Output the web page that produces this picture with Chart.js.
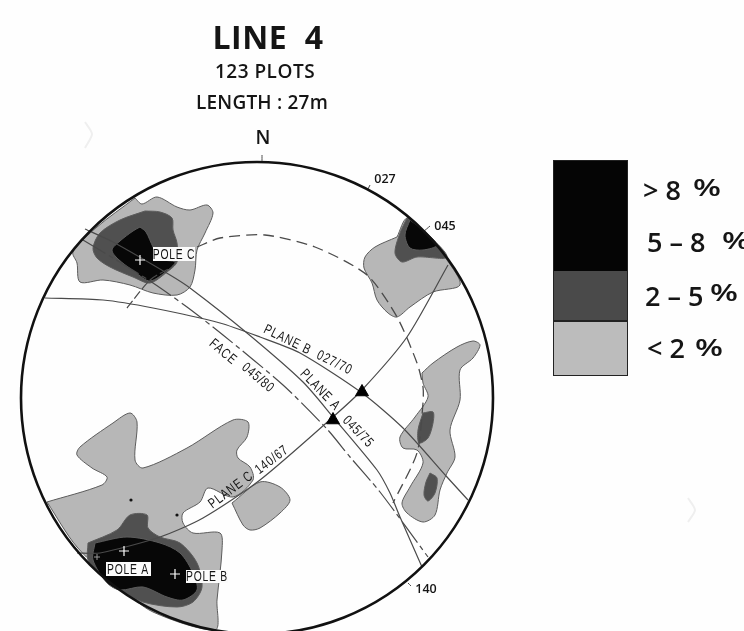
<!DOCTYPE html>
<html>
<head>
<meta charset="utf-8">
<title>LINE 4</title>
<script src="https://cdn.jsdelivr.net/npm/chart.js@4"></script>
<style>
  html, body { margin: 0; padding: 0; background: #fefefe; overflow: hidden; }
  canvas { display: block; filter: blur(0.6px); }
</style>
</head>
<body>
<canvas id="net" width="744" height="631"></canvas>
<script>
// --- contour outlines (x, y on the sheet scale) ---
const poleCLight = [[135,198],[142,204],[157,197],[177,207],[190,210],[207,205],[213,213],[205,233],[197,250],[195,270],[190,287],[177,295],[153,293],[130,285],[103,280],[80,282],[77,263],[73,252],[97,227],[135,198]];
const poleCMid = [[145,211],[160,212],[172,218],[173,230],[177,243],[177,262],[167,272],[150,283],[133,277],[110,267],[97,258],[93,248],[100,233],[120,220],[145,211]];
const poleCDark = [[140,227],[146,232],[153,247],[160,259],[175,262],[168,270],[150,281],[135,272],[118,259],[112,250],[120,241],[133,231],[140,227]];

const ne045Light = [[397,237],[375,247],[365,257],[364,268],[372,283],[377,300],[388,313],[397,317],[410,307],[433,292],[460,285],[447,260],[423,230],[407,218],[397,237]];
const ne045Mid = [[407,218],[400,233],[395,253],[402,262],[417,257],[447,257],[423,230],[407,218]];
const ne045Dark = [[410,220],[405,235],[410,248],[423,250],[437,245],[423,230],[410,220]];

const eastLight = [[422,373],[433,363],[457,347],[473,341],[480,345],[473,358],[460,370],[460,400],[450,430],[455,457],[447,473],[440,490],[435,515],[423,522],[407,513],[402,503],[410,487],[423,463],[417,450],[403,448],[400,437],[415,417],[428,397],[423,383],[422,373]];
const eastMidUpper = [[423,413],[433,412],[433,423],[428,438],[419,443],[418,430],[423,413]];
const eastMidLower = [[430,473],[437,478],[435,493],[428,501],[424,495],[426,482],[430,473]];

const swLight = [[47,502],[102,485],[107,477],[92,468],[77,455],[80,447],[113,423],[130,413],[137,422],[135,460],[143,468],[187,448],[233,420],[248,422],[247,437],[237,450],[238,458],[250,467],[253,480],[233,497],[208,488],[200,502],[183,513],[183,523],[193,533],[220,533],[222,550],[217,600],[215,630],[153,612],[120,587],[77,547],[47,502]];
const swBlob = [[232,503],[260,482],[280,487],[290,500],[280,513],[260,528],[250,530],[243,525],[232,503]];
const swMid = [[88,543],[117,530],[130,515],[147,515],[148,528],[160,537],[180,543],[197,563],[202,587],[193,602],[177,607],[143,602],[120,590],[100,573],[88,560],[88,543]];
const swDark = [[95,543],[127,537],[160,543],[180,553],[193,573],[197,590],[183,600],[167,597],[143,587],[120,590],[107,583],[93,560],[95,543]];

// --- great circles ---
const planeA = [[85,229],[113,242],[170,275],[190,288],[247,333],[303,382],[333,417],[377,470],[390,493],[400,517],[422,567]];
const planeB = [[45,298],[103,300],[153,308],[220,323],[260,337],[300,353],[362,393],[403,428],[447,477],[468,500]];
const planeC = [[448,265],[407,337],[362,390],[333,417],[260,480],[203,518],[160,537],[100,553],[77,553]];
const faceLine = [[83,240],[113,258],[153,283],[187,307],[223,335],[283,385],[327,429],[350,457],[380,492],[428,557]];
const poleArc = [[197,247],[220,238],[265,235],[315,247],[367,275],[397,317],[417,363],[423,387],[423,403],[417,453],[393,503]];
const poleCStub = [[127,308],[150,280],[170,268]];

const intersections = [[362,392],[333,420]];
const poleCrosses = [[140,260],[124,551],[175,574]];
const minorCross = [[97,557]];
const specks = [[177,515],[131,500]];

const strikeTicks = [[[262,155],[262,162]],[[368,189],[370,185]],[[423,232],[430,226]],[[408,583],[411,586]]];
const sheetMarks = [[[85,122],[92,134],[85,148]],[[688,498],[695,510],[688,522]]];
const netCentre = [[257,398]];
const netRadius = 236;

// --- text ---
const titleLines = ['LINE  4', '123 PLOTS', 'LENGTH : 27m'];
const strikeLabels = ['N', '027', '045', '140'];
const poleLabels = ['POLE C', 'POLE A', 'POLE B'];
const planeLabels = ['PLANE B  027/70', 'PLANE A', '045/75', 'FACE', '045/80', 'PLANE C', '140/67'];
const legendLabels = ['> 8', '5 – 8', '2 – 5', '< 2'];

const LIGHT = '#b7b7b7', MID = '#505050', DARK = '#070707', EDGE = '#5c5c5c', LINE = '#4a4a4a';

const toPoints = arr => arr.map(p => ({ x: p[0], y: p[1] }));

function contour(arr, colour) {
    return {
        data: toPoints(arr), showLine: true, fill: 'shape', backgroundColor: colour,
        borderColor: EDGE, borderWidth: 1, pointRadius: 0, tension: 0.3
    };
}

function curve(arr, dash, width, colour) {
    return {
        data: toPoints(arr), showLine: true, fill: false, borderColor: colour || LINE,
        borderWidth: width || 1.2, borderDash: dash || [], pointRadius: 0, tension: 0.25
    };
}

// later entries sit on top, chart.js paints index 0 last so the list gets reversed
const layers = [
    ...sheetMarks.map(m => curve(m, [], 2, '#efefef')),
    contour(poleCLight, LIGHT), contour(poleCMid, MID), contour(poleCDark, DARK),
    contour(ne045Light, LIGHT), contour(ne045Mid, MID), contour(ne045Dark, DARK),
    contour(eastLight, LIGHT), contour(eastMidUpper, MID), contour(eastMidLower, MID),
    contour(swLight, LIGHT), contour(swBlob, LIGHT), contour(swMid, MID), contour(swDark, DARK),
    curve(planeA), curve(planeB), curve(planeC),
    curve(faceLine, [26, 4, 5, 4]), curve(poleArc, [11, 6], 1.3), curve(poleCStub, [9, 3]),
    ...strikeTicks.map(t => curve(t, [], 1)),
    { data: toPoints(intersections), pointStyle: 'triangle', pointRadius: 7.5, backgroundColor: '#000', borderColor: '#000' },
    { data: toPoints(poleCrosses), pointStyle: 'cross', pointRadius: 5, borderColor: '#fff', borderWidth: 1.2 },
    { data: toPoints(minorCross), pointStyle: 'cross', pointRadius: 3, borderColor: '#999', borderWidth: 1 },
    { data: toPoints(specks), pointRadius: 1.6, backgroundColor: '#111', borderWidth: 0 },
    { data: toPoints(netCentre), pointRadius: netRadius, backgroundColor: 'transparent', borderColor: '#111', borderWidth: 2.6, clip: false }
].reverse();

const sheetText = {
    id: 'sheetText',
    afterDatasetsDraw(chart) {
        const { ctx, scales: { x, y } } = chart;
        const put = (txt, px, py, font, opt) => {
            opt = opt || {};
            ctx.save();
            ctx.translate(x.getPixelForValue(px), y.getPixelForValue(py));
            ctx.rotate((opt.angle || 0) * Math.PI / 180);
            ctx.scale(opt.squeeze || 1, 1);
            ctx.font = font;
            ctx.fillStyle = opt.colour || '#151515';
            ctx.textAlign = opt.align || 'center';
            ctx.textBaseline = opt.base || 'alphabetic';
            ctx.letterSpacing = opt.spacing || '0px';
            ctx.fillText(txt, 0, 0);
            ctx.restore();
        };
        const box = (x0, y0, x1, y1, colour) => {
            const left = x.getPixelForValue(x0), top = y.getPixelForValue(y0);
            ctx.fillStyle = colour;
            ctx.fillRect(left, top, x.getPixelForValue(x1) - left, y.getPixelForValue(y1) - top);
        };

        // title
        put(titleLines[0], 268, 49, "bold 32px 'Open Sans'", { spacing: '0.5px' });
        put(titleLines[1], 265, 78, "600 19px 'Open Sans'", { spacing: '0.5px' });
        put(titleLines[2], 262, 109, "600 19px 'Open Sans'", { spacing: '0.2px' });

        // strike labels
        put(strikeLabels[0], 263, 144, "600 19px 'Open Sans'");
        put(strikeLabels[1], 385, 183, "600 12.5px 'Open Sans'");
        put(strikeLabels[2], 445, 230, "600 12.5px 'Open Sans'");
        put(strikeLabels[3], 426, 593, "600 12.5px 'Open Sans'");

        // pole labels on white strips
        const narrow = "14px 'Liberation Sans'";
        const flat = { spacing: '1px', squeeze: 0.74 };
        box(153, 247, 195, 261, '#fbfbfb');
        box(106, 562, 151, 576, '#fbfbfb');
        box(186, 570, 228, 583, '#fbfbfb');
        put(poleLabels[0], 174, 259, narrow, flat);
        put(poleLabels[1], 128, 574, narrow, flat);
        put(poleLabels[2], 207, 581, narrow, flat);

        // labels along the great circles
        const along = "14px 'Liberation Sans'";
        const tilted = angle => ({ angle, base: 'middle', spacing: '1.2px', squeeze: 0.76 });
        put(planeLabels[0], 308, 350, along, tilted(26));
        put(planeLabels[1], 320, 390, along, tilted(46));
        put(planeLabels[2], 358, 432, along, tilted(46));
        put(planeLabels[3], 223, 352, along, tilted(40));
        put(planeLabels[4], 258, 378, along, tilted(40));
        put(planeLabels[5], 231, 490, along, tilted(-37));
        put(planeLabels[6], 272, 460, along, tilted(-37));

        // key
        box(553, 160, 627, 271, '#050505');
        box(553, 271, 627, 321, '#4a4a4a');
        box(553, 321, 627, 375, '#bcbcbc');
        ctx.strokeStyle = '#222';
        ctx.lineWidth = 1;
        ctx.strokeRect(553.5, 160.5, 74, 215);
        box(553, 320, 627, 322, '#222');

        const big = "600 27px 'Open Sans'", pct = "600 24px 'Open Sans'";
        const wide = { align: 'left', squeeze: 1.35 };
        put(legendLabels[0], 643, 200, big, { align: 'left' });
        put('%', 693, 196, pct, wide);
        put(legendLabels[1], 647, 252, big, { align: 'left' });
        put('%', 722, 249, pct, wide);
        put(legendLabels[2], 645, 306, big, { align: 'left' });
        put('%', 710, 301, pct, wide);
        put(legendLabels[3], 647, 358, big, { align: 'left' });
        put('%', 695, 356, pct, wide);
    }
};

new Chart(document.getElementById('net').getContext('2d'), {
    type: 'scatter',
    data: { datasets: layers },
    plugins: [sheetText],
    options: {
        responsive: false,
        animation: false,
        events: [],
        layout: { padding: 0, autoPadding: false },
        plugins: { legend: { display: false }, title: { display: false }, tooltip: { enabled: false } },
        scales: {
            x: { type: 'linear', min: 0, max: 744, display: false },
            y: { type: 'linear', min: 0, max: 631, reverse: true, display: false }
        }
    }
});
</script>
</body>
</html>
